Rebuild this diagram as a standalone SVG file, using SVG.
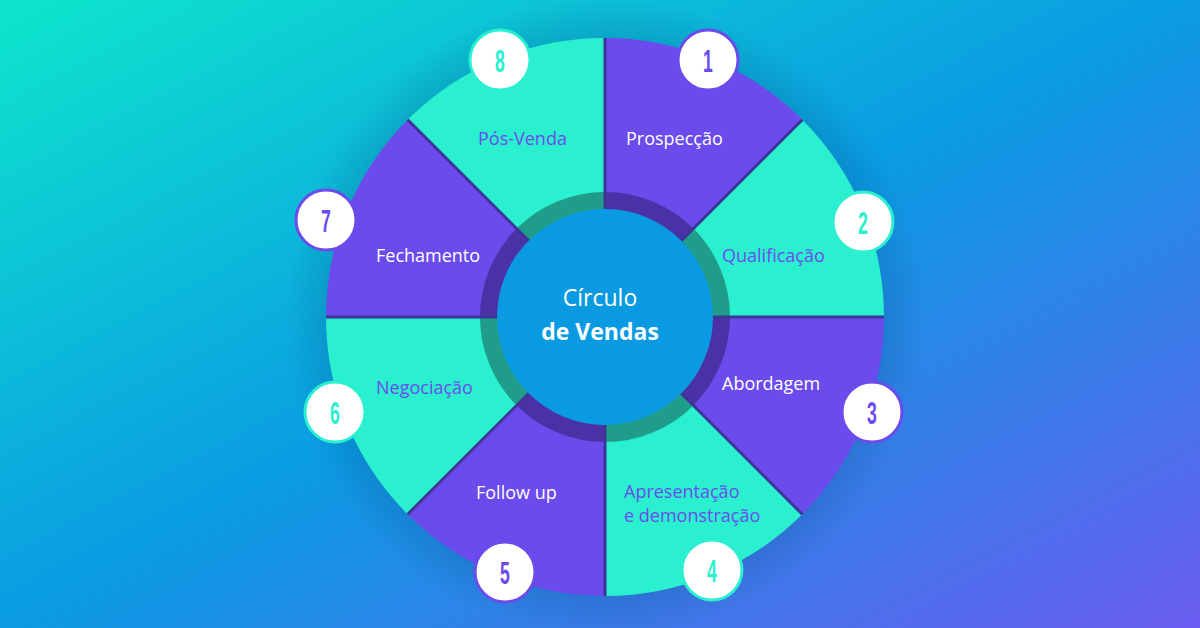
<svg xmlns="http://www.w3.org/2000/svg" width="1200" height="628" viewBox="0 0 1200 628">
<defs>
<linearGradient id="bg" x1="0" y1="0" x2="1" y2="1">
<stop offset="0" stop-color="#0ee6cc"/><stop offset="0.5" stop-color="#0a9be3"/><stop offset="1" stop-color="#6a5cf0"/>
</linearGradient>
<radialGradient id="sh" cx="0.5" cy="0.5" r="0.5"><stop offset="0.7" stop-color="#003060" stop-opacity="0.35"/><stop offset="1" stop-color="#003060" stop-opacity="0"/></radialGradient>
<style>
.p{fill:#6c4bec}.t{fill:#2af0d0}.dp{fill:#4a32a6}.dt{fill:#1f9d8a}
.lw{font-family:"Open Sans",sans-serif;font-size:18px;fill:#fff}
.lp{font-family:"Open Sans",sans-serif;font-size:18px;fill:#6c4bec}
.nc{fill:#fff;stroke-width:3}
.n{font-family:"Liberation Sans",sans-serif;font-size:32px;font-weight:bold;text-anchor:middle}
</style>
</defs>
<rect width="1200" height="628" fill="url(#bg)"/>
<circle cx="605" cy="317" r="320" fill="url(#sh)"/>
<g id="segments">
<path class="p" d="M605 317L605 38A279 279 0 0 1 802.3 119.7Z"/>
<path class="t" d="M605 317L802.3 119.7A279 279 0 0 1 884 317Z"/>
<path class="p" d="M605 317L884 317A279 279 0 0 1 802.3 514.3Z"/>
<path class="t" d="M605 317L802.3 514.3A279 279 0 0 1 605 596Z"/>
<path class="p" d="M605 317L605 596A279 279 0 0 1 407.7 514.3Z"/>
<path class="t" d="M605 317L407.7 514.3A279 279 0 0 1 326 317Z"/>
<path class="p" d="M605 317L326 317A279 279 0 0 1 407.7 119.7Z"/>
<path class="t" d="M605 317L407.7 119.7A279 279 0 0 1 605 38Z"/>
<path class="dp" d="M605 317L605 192A125 125 0 0 1 693.4 228.6Z"/>
<path class="dt" d="M605 317L693.4 228.6A125 125 0 0 1 730 317Z"/>
<path class="dp" d="M605 317L730 317A125 125 0 0 1 693.4 405.4Z"/>
<path class="dt" d="M605 317L693.4 405.4A125 125 0 0 1 605 442Z"/>
<path class="dp" d="M605 317L605 442A125 125 0 0 1 516.6 405.4Z"/>
<path class="dt" d="M605 317L516.6 405.4A125 125 0 0 1 480 317Z"/>
<path class="dp" d="M605 317L480 317A125 125 0 0 1 516.6 228.6Z"/>
<path class="dt" d="M605 317L516.6 228.6A125 125 0 0 1 605 192Z"/>
</g>
<g id="connectors" stroke="#3b3596" stroke-width="3">
<line x1="605" y1="38" x2="605" y2="596"/><line x1="326" y1="317" x2="884" y2="317"/>
<line x1="407.7" y1="119.7" x2="802.3" y2="514.3"/><line x1="802.3" y1="119.7" x2="407.7" y2="514.3"/>
</g>
<g id="center">
<circle cx="605" cy="317" r="108" fill="#0a9ae2"/>
<text x="600" y="306" text-anchor="middle" font-family="Open Sans,sans-serif" font-size="23" fill="#fff">Círculo</text>
<text x="600" y="340" text-anchor="middle" font-family="Open Sans,sans-serif" font-size="23" font-weight="bold" fill="#fff">de Vendas</text>
</g>
<g id="labels">
<text class="lw" x="626" y="145">Prospecção</text>
<text class="lp" x="722" y="262">Qualificação</text>
<text class="lw" x="722" y="390">Abordagem</text>
<text class="lp" x="624" y="498">Apresentação</text>
<text class="lp" x="624" y="522">e demonstração</text>
<text class="lw" x="476" y="499">Follow up</text>
<text class="lp" x="376" y="394">Negociação</text>
<text class="lw" x="376" y="262">Fechamento</text>
<text class="lp" x="478" y="145">Pós-Venda</text>
</g>
<g id="numbers">
<g id="n1"><circle class="nc" cx="708" cy="60" r="30" stroke="#6c4bec"/><text class="n" transform="translate(708 72) scale(0.55 1)" fill="#6c4bec">1</text></g>
<g id="n2"><circle class="nc" cx="863" cy="222" r="30" stroke="#2af0d0"/><text class="n" transform="translate(863 234) scale(0.55 1)" fill="#2af0d0">2</text></g>
<g id="n3"><circle class="nc" cx="872" cy="412" r="30" stroke="#6c4bec"/><text class="n" transform="translate(872 424) scale(0.55 1)" fill="#6c4bec">3</text></g>
<g id="n4"><circle class="nc" cx="712" cy="570" r="30" stroke="#2af0d0"/><text class="n" transform="translate(712 582) scale(0.55 1)" fill="#2af0d0">4</text></g>
<g id="n5"><circle class="nc" cx="505" cy="572" r="30" stroke="#6c4bec"/><text class="n" transform="translate(505 584) scale(0.55 1)" fill="#6c4bec">5</text></g>
<g id="n6"><circle class="nc" cx="335" cy="412" r="30" stroke="#2af0d0"/><text class="n" transform="translate(335 424) scale(0.55 1)" fill="#2af0d0">6</text></g>
<g id="n7"><circle class="nc" cx="326" cy="220" r="30" stroke="#6c4bec"/><text class="n" transform="translate(326 232) scale(0.55 1)" fill="#6c4bec">7</text></g>
<g id="n8"><circle class="nc" cx="500" cy="60" r="30" stroke="#2af0d0"/><text class="n" transform="translate(500 72) scale(0.55 1)" fill="#2af0d0">8</text></g>
</g>
</svg>
